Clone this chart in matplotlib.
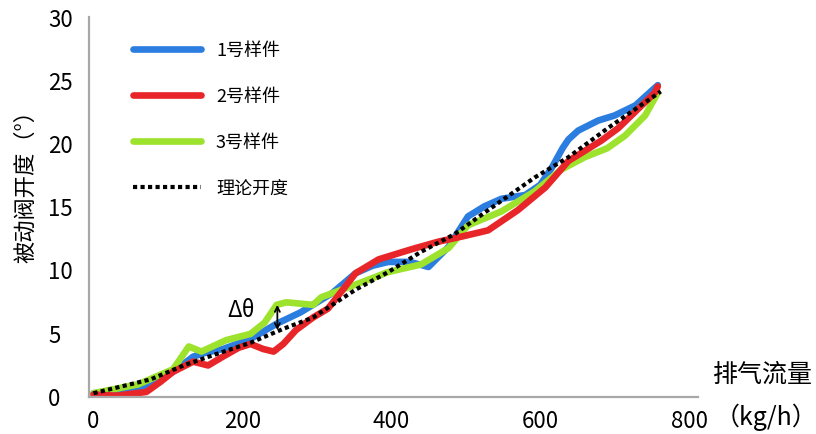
import matplotlib
matplotlib.use("Agg")
import matplotlib.pyplot as plt

plt.rcParams['font.family'] = ['Noto Sans CJK SC', 'DejaVu Sans']

# 1号样件
x1 = [0, 40, 67, 107, 134, 150, 174, 211, 246, 278, 320, 352, 375, 396, 425, 450, 477, 503, 525, 548, 580, 600, 615, 630, 638, 651, 678, 700, 728, 758]
y1 = [0.2, 0.3, 0.7, 1.9, 3.1, 3.4, 3.7, 4.5, 5.7, 6.6, 8.1, 9.7, 10.3, 10.6, 10.6, 10.2, 11.8, 14.2, 15.0, 15.6, 15.9, 16.7, 18.0, 19.6, 20.3, 21.0, 21.8, 22.2, 23.0, 24.6]
# 2号样件
x2 = [0, 31, 71, 90, 107, 134, 154, 174, 195, 211, 228, 242, 255, 272, 295, 315, 335, 352, 383, 427, 463, 494, 530, 570, 607, 638, 682, 705, 754, 758]
y2 = [0.1, 0.0, 0.3, 1.1, 1.9, 2.7, 2.4, 3.1, 3.8, 4.1, 3.7, 3.5, 4.1, 5.2, 6.2, 6.9, 8.4, 9.7, 10.8, 11.6, 12.2, 12.6, 13.1, 14.7, 16.5, 18.6, 20.2, 21.2, 24.0, 24.5]
# 3号样件
x3 = [0, 60, 107, 128, 145, 178, 211, 230, 246, 259, 295, 306, 352, 396, 440, 477, 503, 548, 593, 628, 660, 690, 714, 741, 758]
y3 = [0.2, 0.9, 2.1, 3.9, 3.5, 4.4, 4.9, 5.8, 7.2, 7.4, 7.2, 7.8, 8.8, 9.8, 10.4, 11.7, 13.5, 14.6, 16.2, 17.9, 18.9, 19.6, 20.6, 22.2, 24.0]
# 理论开度
xt = [0, 77, 121, 165, 211, 255, 295, 352, 396, 440, 485, 530, 593, 638, 691, 762]
yt = [0.2, 1.3, 2.4, 3.3, 4.2, 5.3, 6.2, 8.4, 9.8, 11.4, 12.8, 14.7, 17.3, 18.9, 21.2, 24.1]

xticks = [0, 200, 400, 600, 800]
yticks = [0, 5, 10, 15, 20, 25, 30]

fig = plt.figure(figsize=(8.16, 4.35), dpi=100)
ax = fig.add_axes([89/816, 1-398/435, (698-89)/816, 380/435])

style = dict(lw=4.8, solid_capstyle='round', solid_joinstyle='round')
ax.plot(x1, y1, color='#2b7de0', label='1号样件', **style)
ax.plot(x3, y3, color='#9de22c', label='3号样件', **style)
ax.plot(x2, y2, color='#e8262a', label='2号样件', **style)
ax.plot(xt, yt, color='black', lw=3, linestyle=(0, (1, 0.8)), label='理论开度')

ax.set_xlim(-6, 812)
ax.set_ylim(-0.1, 30)
ax.set_xticks(xticks)
ax.set_yticks(yticks)
ax.tick_params(length=0, labelsize=16)
ax.tick_params(axis='y', pad=29.5)
ax.tick_params(axis='x', pad=9)
for lab in ax.get_yticklabels():
    lab.set_horizontalalignment('left')

for s in ['top', 'right']:
    ax.spines[s].set_visible(False)
for s in ['left', 'bottom']:
    ax.spines[s].set_color('#a8a8a8')
    ax.spines[s].set_linewidth(1.6)

h, l = ax.get_legend_handles_labels()
order = [0, 2, 1, 3]
ax.legend([h[i] for i in order], [l[i] for i in order], loc='upper left',
          bbox_to_anchor=(0.072, 0.937), frameon=False, fontsize=13,
          handlelength=3.8, handletextpad=0.8, labelspacing=1.55,
          borderpad=0, borderaxespad=0)

ax.text(198, 6.8, 'Δθ', fontsize=16, ha='center', va='center')
ax.annotate('', xy=(247, 7.2), xytext=(247, 5.2),
            arrowprops=dict(arrowstyle='<->', color='black', lw=1.3,
                            shrinkA=0, shrinkB=0, mutation_scale=9))

fig.text(26/816, 1-181/435, '被动阀开度（°）', rotation=90, fontsize=16,
         ha='center', va='center')
fig.text(763/816, 1-375/435, '排气流量', fontsize=18, ha='center', va='center')
fig.text(766/816, 1-417/435, '（kg/h）', fontsize=18, ha='center', va='center')

fig.savefig('out.png', dpi=100)
